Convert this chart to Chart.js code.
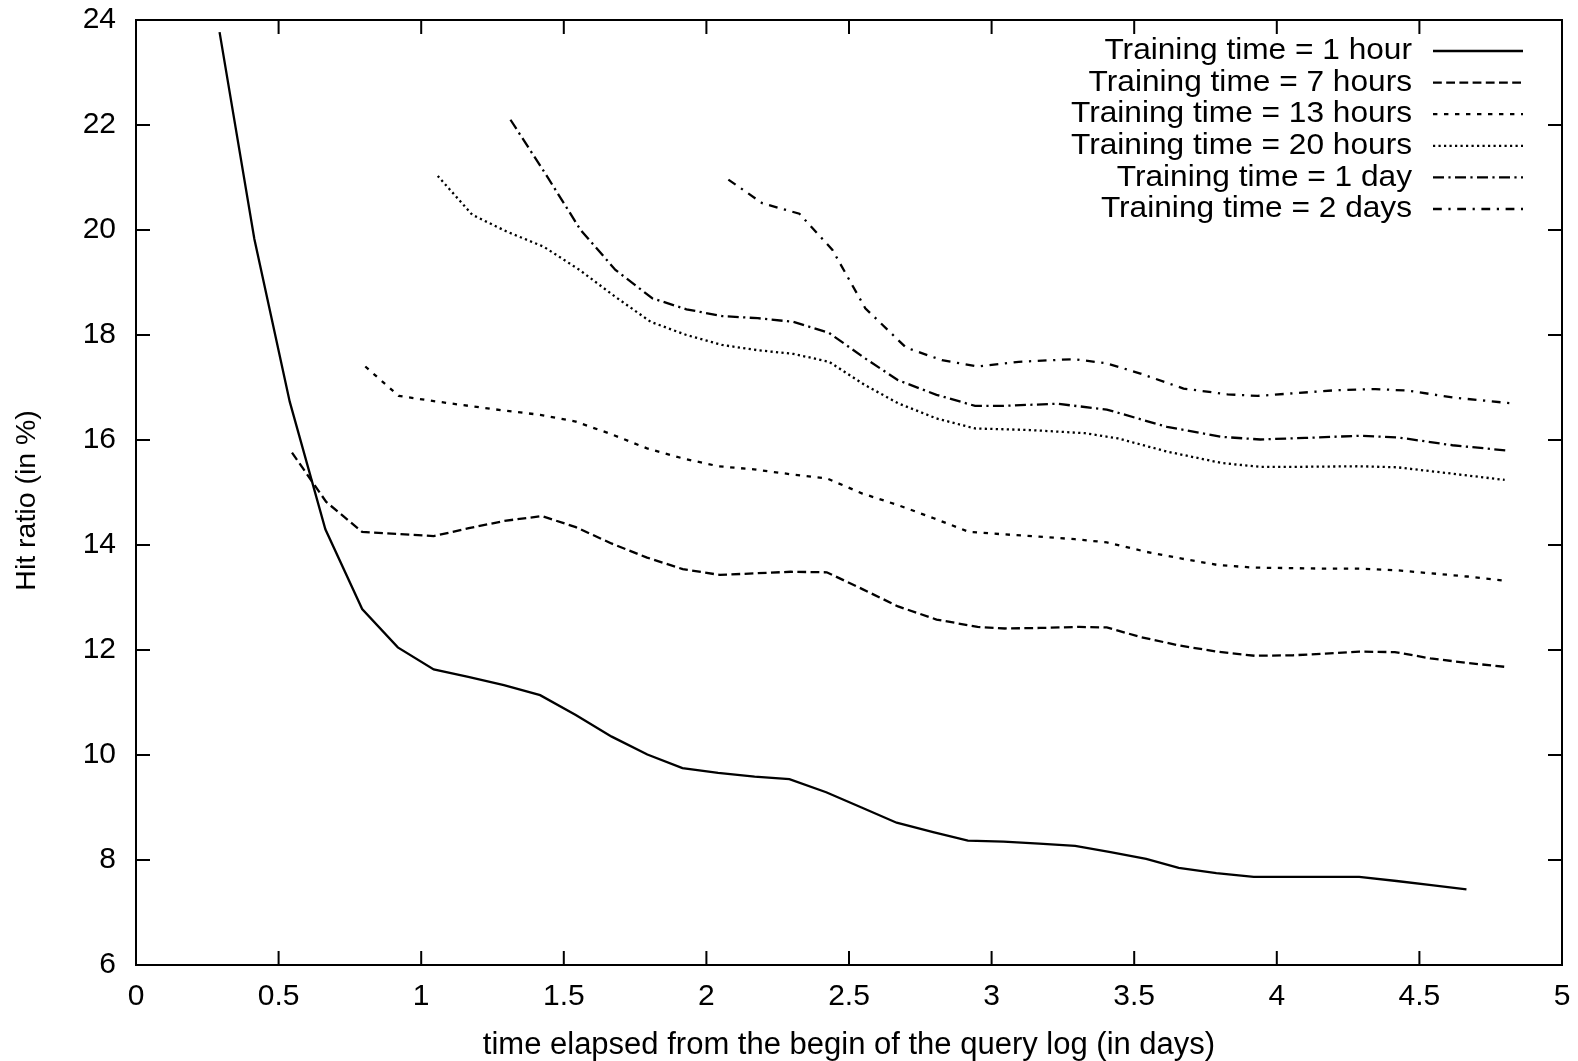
<!DOCTYPE html>
<html><head><meta charset="utf-8">
<script src="https://cdn.jsdelivr.net/npm/chart.js@4.4.1/dist/chart.umd.min.js"></script>
<style>html,body{margin:0;padding:0;background:#fff;} #wrap{width:1578px;height:1061px;position:relative;}</style>
</head><body><div id="wrap"><canvas id="c"></canvas></div>
<script>
const seriesLabels = [
  'Training time = 1 hour',
  'Training time = 7 hours',
  'Training time = 13 hours',
  'Training time = 20 hours',
  'Training time = 1 day',
  'Training time = 2 days'
];
const x1h = [0.293,0.415,0.539,0.664,0.793,0.918,1.044,1.165,1.29,1.417,1.542,1.668,1.793,1.916,2.041,2.169,2.291,2.42,2.544,2.667,2.795,2.917,3.042,3.167,3.293,3.417,3.542,3.656,3.788,3.919,4.042,4.167,4.289,4.42,4.542,4.665];
const y1h = [23.77,19.83,16.73,14.30,12.78,12.05,11.63,11.49,11.33,11.14,10.76,10.35,10.01,9.75,9.66,9.59,9.54,9.29,9.00,8.71,8.53,8.37,8.35,8.31,8.27,8.15,8.02,7.85,7.75,7.68,7.68,7.68,7.68,7.60,7.52,7.44];
const x7h = [0.547,0.667,0.793,0.917,1.044,1.167,1.292,1.424,1.542,1.667,1.792,1.917,2.047,2.17,2.296,2.422,2.547,2.672,2.807,2.951,3.047,3.17,3.307,3.404,3.52,3.654,3.788,3.923,4.058,4.17,4.289,4.414,4.539,4.674,4.799];
const y7h = [15.76,14.82,14.25,14.21,14.17,14.32,14.46,14.55,14.34,14.03,13.76,13.54,13.43,13.46,13.49,13.48,13.16,12.83,12.58,12.44,12.41,12.42,12.44,12.43,12.25,12.09,11.97,11.89,11.90,11.93,11.97,11.96,11.84,11.75,11.68];
const x13h = [0.804,0.921,1.044,1.167,1.292,1.417,1.542,1.667,1.792,1.917,2.042,2.167,2.292,2.422,2.547,2.672,2.797,2.92,3.077,3.167,3.292,3.404,3.542,3.667,3.792,3.917,4.042,4.167,4.292,4.417,4.542,4.667,4.799];
const y13h = [17.40,16.84,16.74,16.65,16.56,16.48,16.35,16.11,15.84,15.65,15.50,15.44,15.35,15.27,14.98,14.76,14.51,14.25,14.19,14.16,14.11,14.05,13.87,13.74,13.62,13.57,13.56,13.55,13.55,13.52,13.46,13.40,13.32];
const x20h = [1.058,1.179,1.30,1.43,1.555,1.68,1.805,1.93,2.055,2.18,2.305,2.43,2.555,2.672,2.807,2.942,3.134,3.327,3.443,3.615,3.808,3.942,4.1,4.288,4.423,4.597,4.799];
const y20h = [21.03,20.29,19.97,19.68,19.24,18.73,18.25,18.00,17.81,17.71,17.64,17.49,17.05,16.70,16.41,16.22,16.19,16.13,16.03,15.78,15.56,15.49,15.49,15.50,15.48,15.37,15.24];
const x1d = [1.313,1.438,1.559,1.681,1.81,1.93,2.055,2.18,2.305,2.43,2.555,2.672,2.807,2.942,3.038,3.23,3.404,3.615,3.807,3.942,4.1,4.288,4.423,4.616,4.807];
const y1d = [22.10,21.05,20.00,19.24,18.70,18.49,18.36,18.32,18.25,18.04,17.56,17.14,16.86,16.65,16.65,16.69,16.58,16.25,16.06,16.01,16.04,16.08,16.05,15.90,15.80];
const x2d = [2.077,2.196,2.326,2.442,2.557,2.70,2.826,2.951,3.095,3.288,3.404,3.519,3.673,3.827,3.933,4.058,4.212,4.346,4.462,4.616,4.82];
const y2d = [20.96,20.51,20.31,19.62,18.51,17.76,17.52,17.40,17.49,17.54,17.46,17.27,16.98,16.87,16.84,16.89,16.95,16.97,16.94,16.81,16.70];

const xTickValues = [0,0.5,1,1.5,2,2.5,3,3.5,4,4.5,5];
const xTickLabels = ['0','0.5','1','1.5','2','2.5','3','3.5','4','4.5','5'];
const yTickValues = [6,8,10,12,14,16,18,20,22,24];
const yTickLabels = ['6','8','10','12','14','16','18','20','22','24'];

const xSeries = [x1h,x7h,x13h,x20h,x1d,x2d];
const ySeries = [y1h,y7h,y13h,y20h,y1d,y2d];
const dashes = [[],[8.8,4.4],[4.4,6.6],[2.2,3.3],[11,4.4,2.2,4.4],[8.8,6.6,2.2,6.6]];

const FONT = 'Liberation Sans, Arial, Helvetica, sans-serif';

const datasets = seriesLabels.map((lab,i)=>({
  label: lab,
  data: xSeries[i].map((x,j)=>({x:x, y:ySeries[i][j]})),
  borderColor: '#000',
  borderWidth: 2.3,
  borderDash: dashes[i],
  pointRadius: 0,
  fill: false,
  tension: 0
}));

const framePlugin = {
  id: 'frame',
  afterDraw(chart) {
    const ctx = chart.ctx, a = chart.chartArea;
    const xs = chart.scales.x, ys = chart.scales.y;
    const tl = 14;
    ctx.save();
    ctx.strokeStyle = '#000';
    ctx.lineWidth = 2;
    ctx.beginPath();
    xTickValues.forEach(v=>{
      const p = xs.getPixelForValue(v);
      ctx.moveTo(p, a.bottom); ctx.lineTo(p, a.bottom - tl);
      ctx.moveTo(p, a.top); ctx.lineTo(p, a.top + tl);
    });
    yTickValues.forEach(v=>{
      const p = ys.getPixelForValue(v);
      ctx.moveTo(a.left, p); ctx.lineTo(a.left + tl, p);
      ctx.moveTo(a.right, p); ctx.lineTo(a.right - tl, p);
    });
    ctx.stroke();
    ctx.strokeRect(a.left, a.top, a.right - a.left, a.bottom - a.top);
    // legend (inside plot, top right)
    ctx.font = '30px ' + FONT;
    ctx.fillStyle = '#000';
    ctx.textAlign = 'right';
    ctx.textBaseline = 'middle';
    chart.data.datasets.forEach((ds,i)=>{
      const y = a.top + 31 + i*31.6;
      ctx.save();
      ctx.translate(a.right - 150, y);
      ctx.scale(1.055, 1);
      ctx.fillText(ds.label, 0, 0);
      ctx.restore();
      ctx.save();
      ctx.lineWidth = ds.borderWidth;
      ctx.setLineDash(ds.borderDash);
      ctx.beginPath();
      ctx.moveTo(a.right - 129, y);
      ctx.lineTo(a.right - 39, y);
      ctx.stroke();
      ctx.restore();
    });
    ctx.restore();
  }
};

new Chart(document.getElementById('c'), {
  type: 'line',
  data: { datasets },
  options: {
    responsive: true,
    maintainAspectRatio: false,
    animation: false,
    events: [],
    layout: { padding: { top: 20, right: 16, left: 0, bottom: 0 } },
    plugins: { legend: { display: false }, tooltip: { enabled: false } },
    scales: {
      x: {
        type: 'linear', min: 0, max: 5,
        grid: { display: false, drawTicks: false },
        border: { display: false },
        afterBuildTicks: s => { s.ticks = xTickValues.map(v=>({value:v})); },
        afterFit: s => { s.height = 96; s.paddingLeft = 0; s.paddingRight = 0; },
        ticks: {
          color: '#000', padding: 14, maxRotation: 0, autoSkip: false,
          font: { family: FONT, size: 30 },
          callback: v => xTickLabels[xTickValues.indexOf(v)]
        },
        title: {
          display: true, text: 'time elapsed from the begin of the query log (in days)',
          color: '#000', font: { family: FONT, size: 31, lineHeight: 1 }, padding: { top: 0, bottom: 0 }
        }
      },
      y: {
        type: 'linear', min: 6, max: 24,
        grid: { display: false, drawTicks: false },
        border: { display: false },
        afterBuildTicks: s => { s.ticks = yTickValues.map(v=>({value:v})); },
        afterFit: s => { s.width = 136; s.paddingTop = 0; s.paddingBottom = 0; },
        ticks: {
          color: '#000', padding: 20, autoSkip: false,
          font: { family: FONT, size: 30 },
          callback: v => yTickLabels[yTickValues.indexOf(v)]
        },
        title: {
          display: true, text: 'Hit ratio (in %)  ',
          color: '#000', font: { family: FONT, size: 28.5 }, padding: { top: 10, bottom: 0 }
        }
      }
    }
  },
  plugins: [framePlugin]
});
</script>
</body></html>
